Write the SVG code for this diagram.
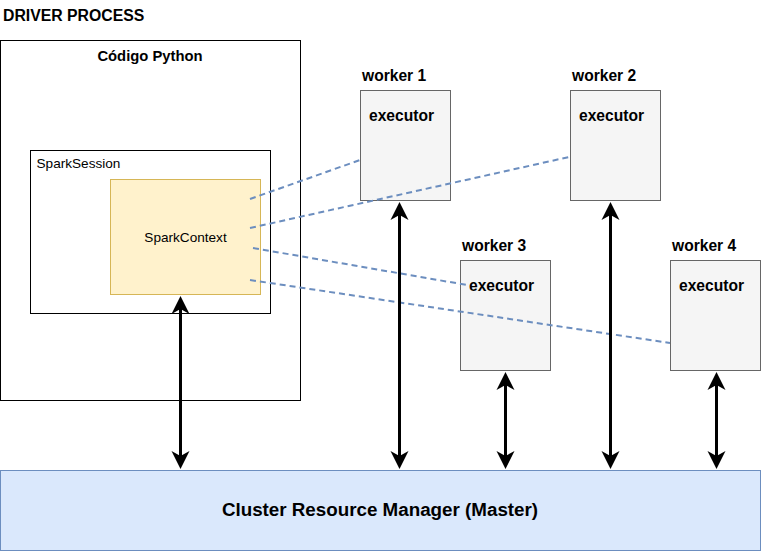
<svg xmlns="http://www.w3.org/2000/svg" width="762" height="551" viewBox="0 0 762 551">
<defs>
<style>
text{font-family:"Liberation Sans",Arial,sans-serif;fill:#000}
.b{font-weight:bold}
.box{fill:#fff;stroke:#000;stroke-width:1}
.wk{fill:#f5f5f5;stroke:#666;stroke-width:1}
.wl{font-weight:bold;font-size:15.6px}
.dash{stroke:#6c8ebf;stroke-width:2;stroke-dasharray:6 4;fill:none}
.arr{stroke:#000;stroke-width:3;fill:none;marker-start:url(#ah);marker-end:url(#ah)}
</style>
<marker id="ah" viewBox="0 -10 20 20" markerWidth="20" markerHeight="20" refX="6" refY="0" orient="auto-start-reverse" markerUnits="userSpaceOnUse">
<path d="M0,-9 L18,0 L0,9 L5,0 Z" fill="#000"/>
</marker>
</defs>
<rect width="762" height="551" fill="#fff"/>
<text class="b" x="3" y="21" font-size="15.8">DRIVER PROCESS</text>
<g id="driver">
<rect class="box" x="0.5" y="40.5" width="300" height="360"/>
<text class="b" x="150" y="61" font-size="14.8" text-anchor="middle">Código Python</text>
</g>
<g id="sparksession">
<rect class="box" x="30.5" y="150.5" width="240" height="163"/>
<text x="36.5" y="168" font-size="13.6">SparkSession</text>
</g>
<g id="sparkcontext">
<rect x="110.5" y="179.5" width="150" height="115" fill="#fff2cc" stroke="#d6b656"/>
<text x="185.5" y="242" font-size="13.6" text-anchor="middle">SparkContext</text>
</g>
<g id="worker1">
<text class="wl" x="362" y="81">worker 1</text>
<rect class="wk" x="360.5" y="90.5" width="90" height="110"/>
<text class="wl" x="369" y="121">executor</text>
</g>
<g id="worker2">
<text class="wl" x="572" y="81">worker 2</text>
<rect class="wk" x="570.5" y="90.5" width="90" height="110"/>
<text class="wl" x="579" y="121">executor</text>
</g>
<g id="worker3">
<text class="wl" x="462" y="251">worker 3</text>
<rect class="wk" x="460.5" y="260.5" width="90" height="110"/>
<text class="wl" x="469" y="291">executor</text>
</g>
<g id="worker4">
<text class="wl" x="672" y="251">worker 4</text>
<rect class="wk" x="670.5" y="260.5" width="90" height="110"/>
<text class="wl" x="679" y="291">executor</text>
</g>
<g id="master">
<rect x="0.5" y="470.5" width="760" height="80" fill="#dae8fc" stroke="#6c8ebf"/>
<text class="b" x="380" y="516" font-size="18.8" text-anchor="middle">Cluster Resource Manager (Master)</text>
</g>
<g id="connectors">
<line class="dash" x1="250" y1="199" x2="360" y2="160"/>
<line class="dash" x1="250" y1="228" x2="569" y2="157"/>
<line class="dash" x1="253" y1="248" x2="467" y2="285"/>
<line class="dash" x1="250" y1="280" x2="670" y2="343"/>
<line class="arr" x1="180.5" y1="308" x2="180.5" y2="457"/>
<line class="arr" x1="399.5" y1="214" x2="399.5" y2="457"/>
<line class="arr" x1="505.5" y1="384" x2="505.5" y2="457"/>
<line class="arr" x1="610.5" y1="214" x2="610.5" y2="457"/>
<line class="arr" x1="716.5" y1="384" x2="716.5" y2="457"/>
</g>
</svg>
